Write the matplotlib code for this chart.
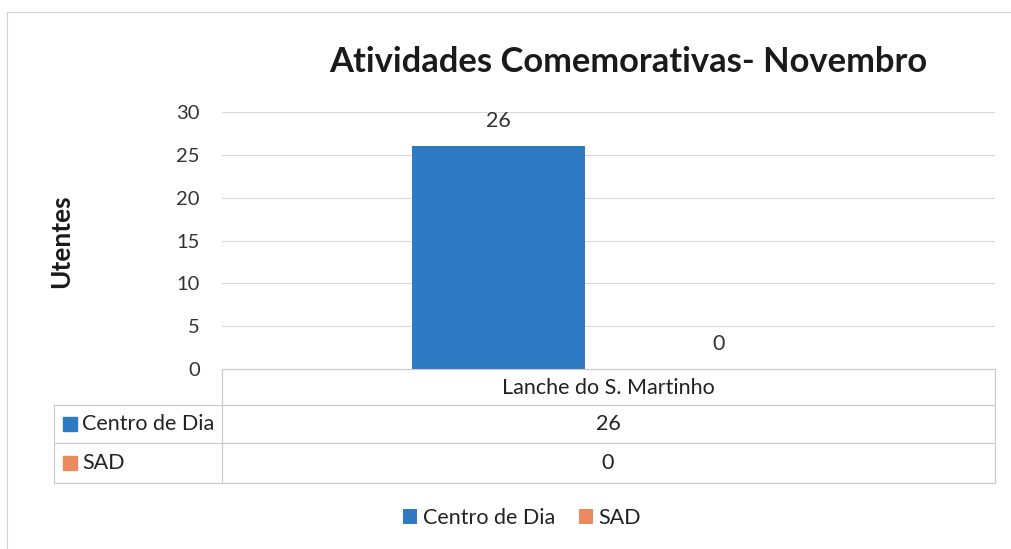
import matplotlib
matplotlib.use("Agg")
import matplotlib.pyplot as plt
from matplotlib.lines import Line2D
from matplotlib.patches import Rectangle, Patch

plt.rcParams['font.family'] = ['Lato', 'DejaVu Sans']

title = "Atividades Comemorativas- Novembro"
ylabel = "Utentes"
categories = ["Lanche do S. Martinho"]
series_names = ["Centro de Dia", "SAD"]
centro_de_dia = [26]
sad = [0]
series_values = [centro_de_dia, sad]
colors = ["#2E7BC4", "#EB8A5E"]
yticks = [0, 5, 10, 15, 20, 25, 30]

W, H = 1011, 549
fig = plt.figure(figsize=(W / 100, H / 100), dpi=100)

def fx(px):
    return px / W

def fy(py):
    return 1 - py / H

FS = 15.5
TXT = "#222222"
lc = "#C8C8C8"

def hline(y, x0, x1, c=lc):
    fig.add_artist(Line2D([fx(x0), fx(x1)], [fy(y), fy(y)], transform=fig.transFigure,
                          color=c, linewidth=0.8))

def vline(x, y0, y1, c=lc):
    fig.add_artist(Line2D([fx(x), fx(x)], [fy(y0), fy(y1)], transform=fig.transFigure,
                          color=c, linewidth=0.8))

# outer chart border (left and top visible)
hline(12, 7, 1011, "#D0D0D0")
vline(7, 12, 549, "#D0D0D0")

L, R, T, B = 222, 995, 112, 369
ax = fig.add_axes([fx(L), fy(B), fx(R) - fx(L), fy(T) - fy(B)])
ax.set_xlim(-0.5, 0.5)
ax.set_ylim(0, 30)
ax.set_yticks(yticks)
ax.set_yticklabels([str(t) for t in yticks], fontsize=14.5, color="#333333")
ax.tick_params(axis="y", length=0, pad=16)
ax.set_xticks([])
for s in ax.spines.values():
    s.set_visible(False)
ax.grid(axis="y", color="#D9D9D9", linewidth=0.8)
ax.set_axisbelow(True)

offset = 110 / (R - L)
width = 173 / (R - L)
offsets = [-offset, offset]
for i, (name, vals) in enumerate(zip(series_names, series_values)):
    for j, v in enumerate(vals):
        xpos = j + offsets[i]
        ax.bar(xpos, v, width=width, color=colors[i], zorder=2)
        ax.annotate(str(v), (xpos, v), xytext=(0, 11), textcoords="offset points",
                    ha="center", va="bottom", fontsize=FS, color="#333333")

fig.text(fx(628), fy(62), title, ha="center", va="center", fontsize=24.8,
         fontweight="bold", color="#1a1a1a")
fig.text(fx(61), fy(241), ylabel, ha="center", va="center", rotation=90,
         fontsize=19, fontweight="bold", color="#1a1a1a")

# data table
hline(369, 222, 995)
hline(405, 54, 995)
hline(443, 54, 995)
hline(483, 54, 995)
vline(222, 369, 483)
vline(995, 369, 483)
vline(54, 405, 483)

fig.text(fx(608), fy(388), categories[0], ha="center", va="center", fontsize=FS, color=TXT)
row_centers = [424, 463]
for i, name in enumerate(series_names):
    yc = row_centers[i]
    fig.patches.append(Rectangle((fx(63), fy(yc + 7)), fx(14), fy(0) - fy(14),
                                 transform=fig.transFigure, color=colors[i]))
    fig.text(fx(82), fy(yc), name, ha="left", va="center", fontsize=FS, color=TXT)
    fig.text(fx(608), fy(yc), str(series_values[i][0]), ha="center", va="center",
             fontsize=FS, color=TXT)

handles = [Patch(facecolor=c, edgecolor="none") for c in colors]
fig.legend(handles, series_names, loc="center", bbox_to_anchor=(fx(522), fy(518)),
           ncol=2, frameon=False, fontsize=FS, handlelength=0.65, handleheight=0.65,
           handletextpad=0.25, columnspacing=1.1, labelcolor=TXT)

fig.savefig("out.png", dpi=100, facecolor="white")
